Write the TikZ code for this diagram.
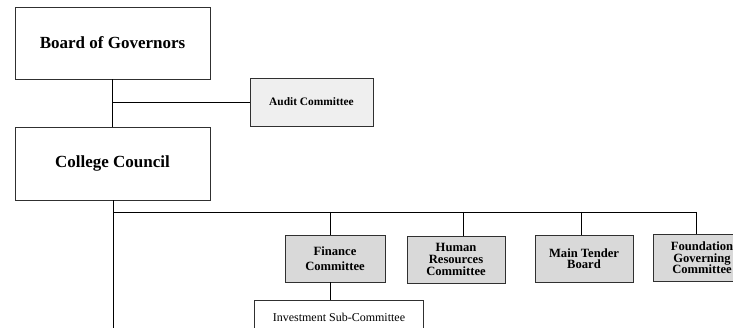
\documentclass[tikz,border=0pt]{standalone}
\usepackage{fontspec}
\setmainfont{Liberation Serif}
\definecolor{boxline}{HTML}{303030}
\definecolor{audfill}{HTML}{EFEFEF}
\definecolor{comfill}{HTML}{D9D9D9}
\tikzset{
  bigbox/.style={draw=boxline, line width=0.9pt, fill=white, minimum width=195pt, minimum height=72pt, inner sep=0pt, font=\fontsize{17}{19}\selectfont\bfseries},
  auditbox/.style={draw=boxline, line width=0.9pt, fill=audfill, minimum width=123pt, minimum height=48pt, inner sep=0pt, font=\fontsize{11.4}{13}\selectfont\bfseries},
  combox/.style={draw=boxline, line width=0.9pt, fill=comfill, minimum width=98pt, minimum height=47pt, inner sep=0pt, align=center, font=\fontsize{12.6}{11.6}\selectfont\bfseries},
  subbox/.style={draw=boxline, line width=0.9pt, fill=white, minimum width=169pt, minimum height=34pt, inner sep=0pt, font=\fontsize{12}{14}\selectfont},
  conn/.style={draw=black, line width=0.9pt}
}
\begin{document}
\begin{tikzpicture}[x=1pt,y=-1pt]
\useasboundingbox (0,0) rectangle (733,328);
\clip (0,0) rectangle (733,328);
\fill[white] (0,0) rectangle (733,328);
% nodes
\node[bigbox] (board) at (112.5,43) {Board of Governors};
\node[auditbox] (audit) at (311.5,102) {Audit Committee};
\node[bigbox, minimum height=73pt] (council) at (112.5,163.5) {College Council};
\node[combox, minimum width=100pt, font=\fontsize{12.6}{15}\selectfont\bfseries] (finance) at (335,258.5) {Finance\\Committee};
\node[combox] (hr) at (456,259.5) {Human\\Resources\\Committee};
\node[combox] (tender) at (584,258.5) {Main Tender\\Board};
\node[combox] (found) at (702,258) {Foundation\\Governing\\Committee};
\node[subbox, anchor=north west] (invest) at (254,300) {\hspace{-0pt}Investment Sub-Committee};
% coordinates
\coordinate (auditj) at (112.5,102);
\coordinate (busl) at (113,212);
\coordinate (busr) at (696,212);
\coordinate (bottom) at (113,330);
\coordinate (dfin) at (330,212);
\coordinate (dhr) at (463,212);
\coordinate (dten) at (581,212);
% connectors
\draw[conn] (board.south) -- (council.north);
\draw[conn] (auditj) -- (audit.west);
\draw[conn] (council.south -| bottom) -- (bottom);
\draw[conn] (busl) -- (busr);
\draw[conn] (dfin) -- (dfin |- finance.north);
\draw[conn] (dhr) -- (dhr |- hr.north);
\draw[conn] (dten) -- (dten |- tender.north);
\draw[conn] (busr) -- (busr |- found.north);
\draw[conn] (finance.south -| dfin) -- (dfin |- invest.north);
\end{tikzpicture}
\end{document}
